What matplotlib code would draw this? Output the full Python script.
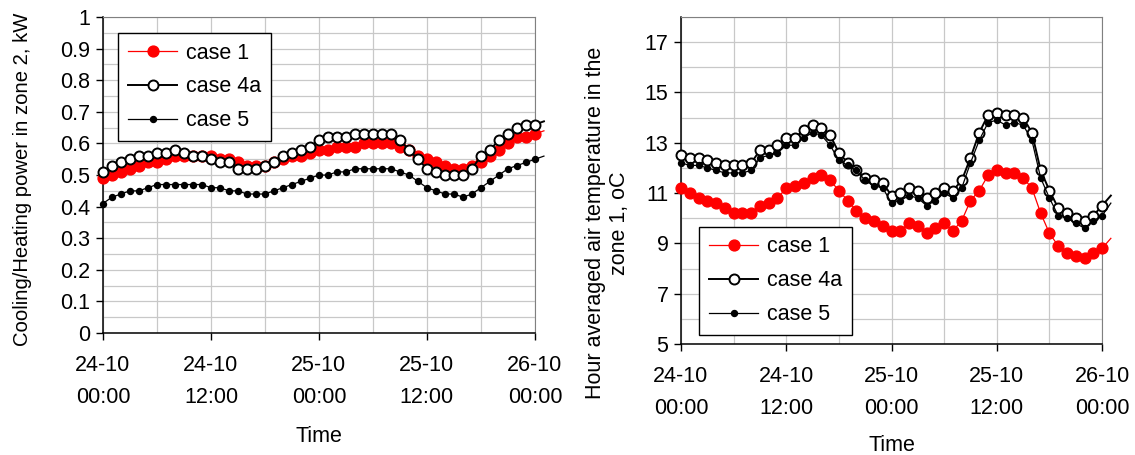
import numpy as np
import matplotlib
matplotlib.use('Agg')
import matplotlib.pyplot as plt
from matplotlib.ticker import MultipleLocator

plt.rcParams['font.family'] = ['Liberation Sans', 'DejaVu Sans']

# hourly values, 24-10 00:00 .. 26-10 01:00 (last point only drawn as line end)
hours = np.arange(50)

power_case1 = [0.49, 0.50, 0.51, 0.52, 0.53, 0.54, 0.54, 0.55, 0.56, 0.56,
               0.56, 0.56, 0.56, 0.55, 0.55, 0.54, 0.53, 0.53, 0.53, 0.54,
               0.55, 0.56, 0.56, 0.57, 0.58, 0.58, 0.59, 0.59, 0.59, 0.60,
               0.60, 0.60, 0.60, 0.59, 0.58, 0.56, 0.55, 0.54, 0.53, 0.52,
               0.52, 0.53, 0.54, 0.56, 0.58, 0.60, 0.62, 0.62, 0.63, 0.64]
power_case4a = [0.51, 0.53, 0.54, 0.55, 0.56, 0.56, 0.57, 0.57, 0.58, 0.57,
                0.56, 0.56, 0.55, 0.54, 0.54, 0.52, 0.52, 0.52, 0.53, 0.54,
                0.56, 0.57, 0.58, 0.59, 0.61, 0.62, 0.62, 0.62, 0.63, 0.63,
                0.63, 0.63, 0.63, 0.61, 0.58, 0.55, 0.52, 0.51, 0.50, 0.50,
                0.50, 0.52, 0.56, 0.58, 0.61, 0.63, 0.65, 0.66, 0.66, 0.67]
power_case5 = [0.41, 0.43, 0.44, 0.45, 0.45, 0.46, 0.47, 0.47, 0.47, 0.47,
               0.47, 0.47, 0.46, 0.46, 0.45, 0.45, 0.44, 0.44, 0.44, 0.45,
               0.46, 0.47, 0.48, 0.49, 0.50, 0.50, 0.51, 0.51, 0.52, 0.52,
               0.52, 0.52, 0.52, 0.51, 0.50, 0.48, 0.46, 0.45, 0.44, 0.44,
               0.43, 0.44, 0.46, 0.48, 0.50, 0.52, 0.53, 0.54, 0.55, 0.56]

temp_case1 = [11.2, 11.0, 10.8, 10.7, 10.6, 10.4, 10.2, 10.2, 10.2, 10.5,
              10.6, 10.8, 11.2, 11.3, 11.4, 11.6, 11.7, 11.5, 11.1, 10.7,
              10.3, 10.0, 9.9, 9.7, 9.5, 9.5, 9.8, 9.7, 9.4, 9.6,
              9.8, 9.5, 9.9, 10.7, 11.1, 11.7, 11.9, 11.8, 11.8, 11.6,
              11.2, 10.2, 9.4, 8.9, 8.6, 8.5, 8.4, 8.6, 8.8, 9.2]
temp_case4a = [12.5, 12.4, 12.4, 12.3, 12.2, 12.1, 12.1, 12.1, 12.2, 12.7,
               12.7, 12.9, 13.2, 13.2, 13.5, 13.7, 13.6, 13.3, 12.6, 12.2,
               11.9, 11.6, 11.5, 11.4, 10.9, 11.0, 11.2, 11.1, 10.8, 11.0,
               11.2, 11.1, 11.5, 12.4, 13.4, 14.1, 14.2, 14.1, 14.1, 14.0,
               13.4, 11.9, 11.1, 10.4, 10.2, 10.0, 9.9, 10.1, 10.5, 10.9]
temp_case5 = [12.2, 12.1, 12.1, 12.0, 11.9, 11.8, 11.8, 11.8, 11.9, 12.4,
              12.5, 12.6, 12.9, 12.9, 13.2, 13.4, 13.3, 12.9, 12.3, 12.1,
              11.9, 11.5, 11.3, 11.2, 10.6, 10.7, 10.9, 10.8, 10.5, 10.7,
              11.0, 10.8, 11.2, 12.2, 13.1, 13.8, 13.9, 13.7, 13.8, 13.7,
              13.1, 11.6, 10.8, 10.1, 10.0, 9.8, 9.6, 9.9, 10.1, 10.6]

tick_hours = [0, 12, 24, 36, 48]
tick_labels = ['24-10\n00:00', '24-10\n12:00', '25-10\n00:00', '25-10\n12:00', '26-10\n00:00']

FS = 15.5

fig = plt.figure(figsize=(11.35, 4.55), dpi=100)
ax1 = fig.add_axes([0.0907, 0.268, 0.3806, 0.6945])
ax2 = fig.add_axes([0.600, 0.244, 0.371, 0.7187])

mk = slice(0, 49)


def draw(ax, c1, c4, c5):
    ax.plot(hours, c1, color='red', lw=0.9, marker='o', ms=7.8, mfc='red', mec='red',
            markevery=mk, label='case 1', clip_on=False, zorder=3)
    ax.plot(hours, c4, color='black', lw=1.4, marker='o', ms=7.2, mfc='white', mec='black',
            mew=1.4, markevery=mk, label='case 4a', clip_on=False, zorder=4)
    ax.plot(hours, c5, color='black', lw=0.9, marker='o', ms=4.3, mfc='black', mec='black',
            markevery=mk, label='case 5', clip_on=False, zorder=5)
    ax.set_xlim(0, 48)
    ax.set_xticks(tick_hours)
    ax.set_xticklabels(tick_labels, linespacing=1.7)
    ax.xaxis.set_minor_locator(MultipleLocator(6))
    ax.grid(True, which='both', color='#c8c8c8', lw=0.9)
    ax.set_axisbelow(True)
    ax.tick_params(axis='both', which='major', direction='out', length=5, width=1,
                   labelsize=FS)
    ax.tick_params(axis='x', which='major', pad=11)
    ax.tick_params(axis='y', which='major', pad=4)
    ax.tick_params(axis='both', which='minor', length=0)
    for s in ['top', 'right']:
        ax.spines[s].set_color('#808080')
    for s in ['left', 'bottom']:
        ax.spines[s].set_color('black')
        ax.spines[s].set_linewidth(1.1)
    ax.set_xlabel('Time', fontsize=FS)
    ax.legend(fontsize=FS, frameon=True, fancybox=False, edgecolor='black',
              framealpha=1, handlelength=2.3, borderpad=0.45, labelspacing=0.6,
              handletextpad=0.4, borderaxespad=0)


draw(ax1, power_case1, power_case4a, power_case5)
ax1.set_ylim(0, 1)
ax1.yaxis.set_minor_locator(MultipleLocator(0.05))
ax1.set_yticks(np.arange(0, 1.01, 0.1))
ax1.set_yticklabels(['0', '0.1', '0.2', '0.3', '0.4', '0.5', '0.6', '0.7', '0.8', '0.9', '1'])
ax1.set_ylabel('Cooling/Heating power in zone 2, kW', fontsize=14.6)
ax1.yaxis.set_label_coords(-0.164, 0.487)
ax1.xaxis.set_label_coords(0.5, -0.294)
ax1.get_legend().set_loc('upper left')
ax1.get_legend().set_bbox_to_anchor((0.035, 0.95))

draw(ax2, temp_case1, temp_case4a, temp_case5)
ax2.set_ylim(5, 18)
ax2.set_yticks([5, 7, 9, 11, 13, 15, 17])
ax2.yaxis.set_minor_locator(MultipleLocator(1))
ax2.set_ylabel('Hour averaged air temperature in the\nzone 1, oC', fontsize=FS)
ax2.yaxis.set_label_coords(-0.121, 0.37)
ax2.xaxis.set_label_coords(0.5, -0.278)
ax2.get_legend().set_loc('lower left')
ax2.get_legend().set_bbox_to_anchor((0.043, 0.0275))

fig.savefig('out.png', dpi=100)
